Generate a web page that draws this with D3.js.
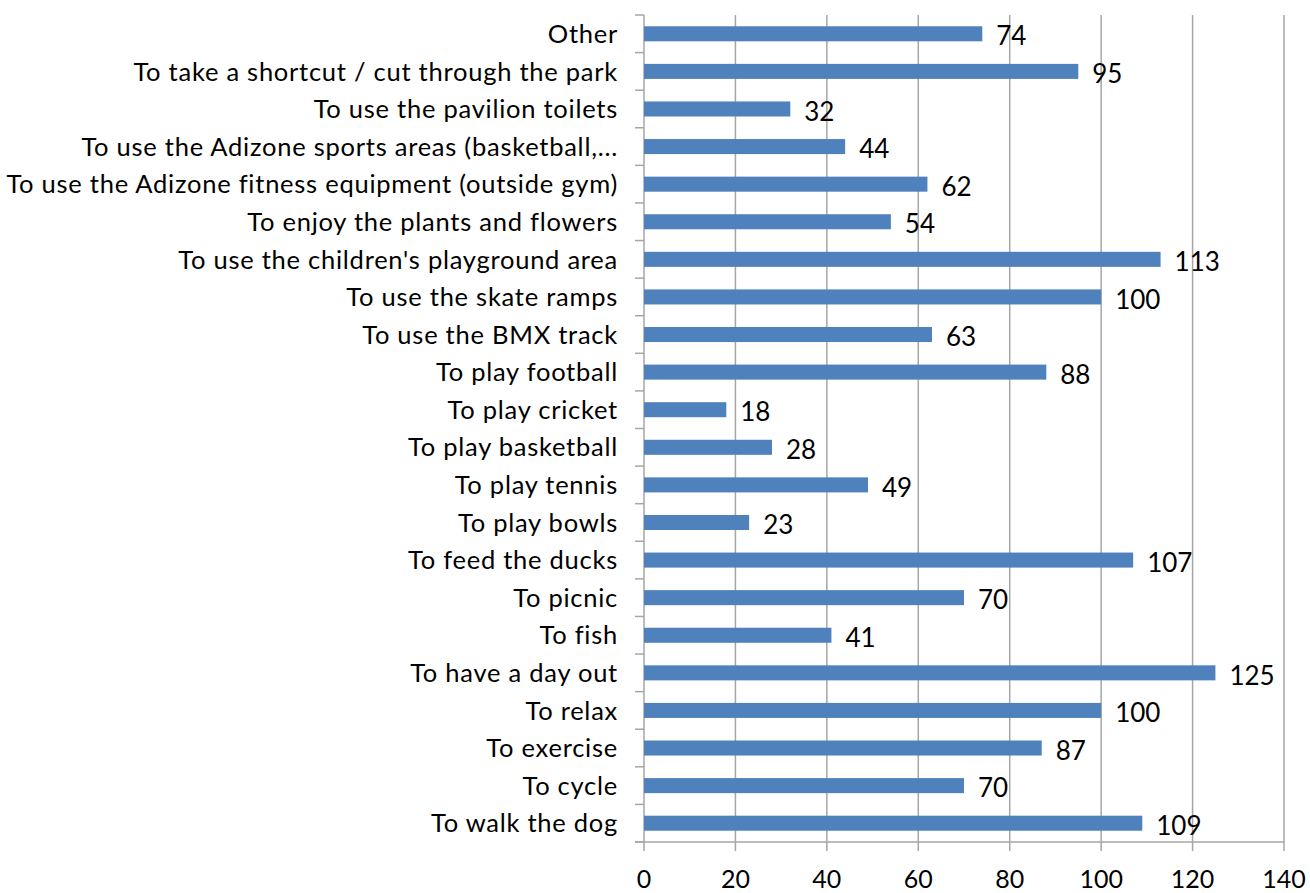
<!DOCTYPE html>
<html>
<head>
<meta charset="utf-8">
<script src="https://cdn.jsdelivr.net/npm/d3@7"></script>
<style>
  html, body { margin: 0; padding: 0; background: #fff; }
  svg { display: block; }
  text { font-family: Lato, "Open Sans", sans-serif; fill: #000; }
</style>
</head>
<body>
<svg id="chart" width="1310" height="893"></svg>
<script>
const categories = [
  "Other",
  "To take a shortcut / cut through the park",
  "To use the pavilion toilets",
  "To use the Adizone sports areas (basketball,...",
  "To use the Adizone fitness equipment (outside gym)",
  "To enjoy the plants and flowers",
  "To use the children's playground area",
  "To use the skate ramps",
  "To use the BMX track",
  "To play football",
  "To play cricket",
  "To play basketball",
  "To play tennis",
  "To play bowls",
  "To feed the ducks",
  "To picnic",
  "To fish",
  "To have a day out",
  "To relax",
  "To exercise",
  "To cycle",
  "To walk the dog"
];
const values = [74, 95, 32, 44, 62, 54, 113, 100, 63, 88, 18, 28, 49, 23, 107, 70, 41, 125, 100, 87, 70, 109];
const xTicks = [0, 20, 40, 60, 80, 100, 120, 140];

(function () {
const svg = d3.select("#chart");
const mLeft = 644, mRight = 1284, mTop = 15, mBottom = 842;

const x = d3.scaleLinear().domain([0, 140]).range([mLeft, mRight]);
const y = d3.scaleBand().domain(categories).range([mTop, mBottom]).paddingInner(0.6).paddingOuter(0.3);

const gridColor = "#a6a6a6";

svg.append("g").selectAll("line").data(xTicks.slice(1)).join("line")
  .attr("x1", d => x(d)).attr("x2", d => x(d))
  .attr("y1", mTop).attr("y2", mBottom + 9)
  .attr("stroke", gridColor).attr("stroke-width", 1.5);

svg.append("line").attr("x1", mLeft - 9).attr("x2", mRight).attr("y1", mBottom).attr("y2", mBottom)
  .attr("stroke", gridColor).attr("stroke-width", 1.5);
svg.append("line").attr("x1", mLeft).attr("x2", mLeft).attr("y1", mTop).attr("y2", mBottom + 9)
  .attr("stroke", gridColor).attr("stroke-width", 1.5);

const boundaries = d3.range(categories.length + 1).map(i => mTop + i * y.step());
svg.append("g").selectAll("line").data(boundaries).join("line")
  .attr("x1", mLeft - 9).attr("x2", mLeft)
  .attr("y1", d => d).attr("y2", d => d)
  .attr("stroke", gridColor).attr("stroke-width", 1.5);

svg.append("g").selectAll("rect").data(values).join("rect")
  .attr("x", x(0))
  .attr("y", (d, i) => y(categories[i]))
  .attr("width", d => x(d) - x(0))
  .attr("height", y.bandwidth())
  .attr("fill", "#4F81BD");

svg.append("g").selectAll("text").data(categories).join("text")
  .attr("x", mLeft - 26)
  .attr("y", d => y(d) + y.bandwidth() / 2)
  .attr("dy", "0.36em")
  .attr("text-anchor", "end")
  .style("font-size", "25.5px")
  .style("letter-spacing", "0.75px")
  .text(d => d);

svg.append("g").selectAll("text").data(values).join("text")
  .attr("x", d => x(d) + 14)
  .attr("y", (d, i) => y(categories[i]) + y.bandwidth() / 2)
  .attr("dy", "0.45em")
  .style("font-size", "26px")
  .text(d => d);

svg.append("g").selectAll("text").data(xTicks).join("text")
  .attr("x", d => x(d))
  .attr("y", 888)
  .attr("text-anchor", "middle")
  .style("font-size", "25px")
  .text(d => d);
})();
</script>
</body>
</html>
